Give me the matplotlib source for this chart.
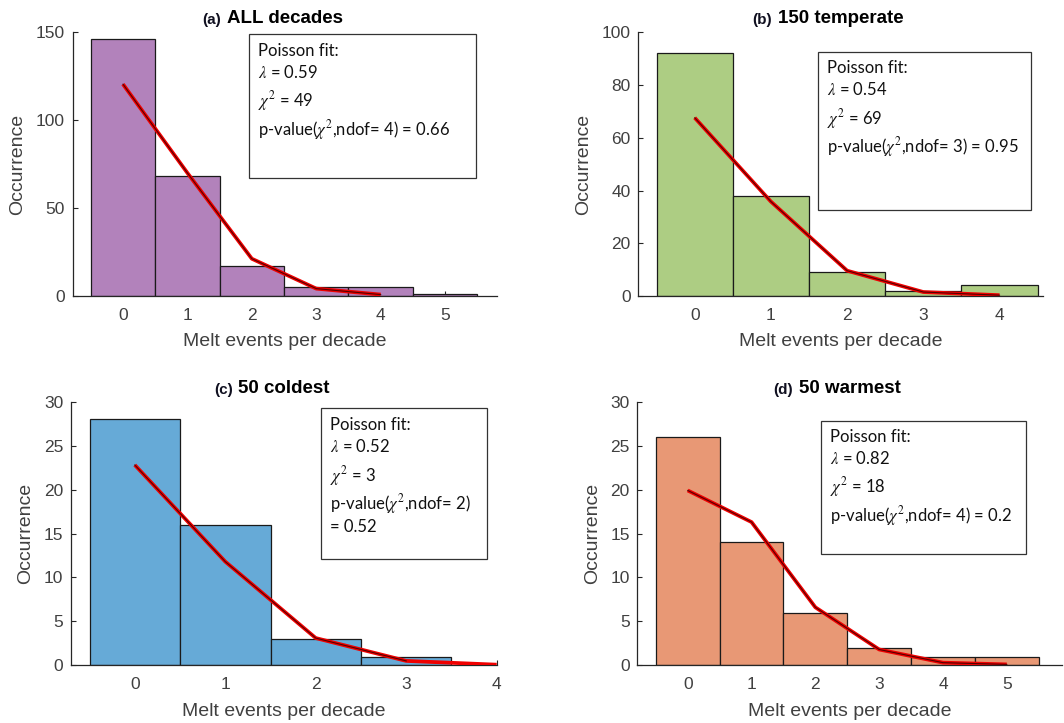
import matplotlib
matplotlib.use("Agg")
import matplotlib.pyplot as plt
from matplotlib.patches import Rectangle
import numpy as np

plt.rcParams['mathtext.fontset'] = 'stix'

# ---------------- data ----------------
titles_tag = ["(a)", "(b)", "(c)", "(d)"]
titles_main = ["ALL decades", "150 temperate", "50 coldest", "50 warmest"]

a_counts = [146, 68, 17, 5, 5, 1]
a_fit = [120.5, 70, 21.2, 4.2, 0.8]
b_counts = [92, 38, 9, 2, 4]
b_fit = [67.6, 35.8, 9.6, 1.5, 0.3]
c_counts = [28, 16, 3, 1]
c_fit = [22.8, 11.8, 3.1, 0.5, 0.07]
c_fit_core_n = 4          # number of fit points covered by the dark core line
d_counts = [26, 14, 6, 2, 1, 1]
d_fit = [19.9, 16.3, 6.6, 1.8, 0.3, 0.1]

lambdas = ["0.59", "0.54", "0.52", "0.82"]
chi2s = ["49", "69", "3", "18"]
ndofs = ["4", "3", "2", "4"]
pvals = ["0.66", "0.95", "0.52", "0.2"]

yticks_list = [[0, 50, 100, 150], [0, 20, 40, 60, 80, 100],
               [0, 5, 10, 15, 20, 25, 30], [0, 5, 10, 15, 20, 25, 30]]
xlims = [(-0.78, 5.8), (-0.74, 4.57), (-0.705, 4.0), (-0.79, 5.86)]

colors = ["#B282BB", "#ADCD83", "#66AAD7", "#E89875"]

# ---------------- layout (figure pixels) ----------------
W, H = 1064, 723
axes_px = [  # left, right, top, bottom
    (72.7, 496.7, 32.3, 296.0),
    (638.3, 1043.0, 32.3, 296.0),
    (71.0, 496.7, 401.7, 665.3),
    (637.3, 1061.7, 401.7, 665.3),
]
boxes_px = [  # left, right, top, bottom
    (249.0, 475.7, 34.3, 178.3),
    (817.7, 1030.7, 51.7, 210.0),
    (321.0, 487.3, 408.3, 559.0),
    (821.0, 1026.0, 420.7, 553.7),
]
text_left_px = [258.3, 826.7, 330.0, 830.0]
text_base_px = [
    [56, 77.7, 106, 135],
    [72.7, 95, 124, 152.7],
    [430, 452.3, 481, 509.3, 531.7],
    [442.3, 464.3, 492.7, 521.7],
]
xlabel_y_px = [342, 342, 711, 711]
ylabel_x_px = [17.5, 584, 25.8, 592.5]

counts_all = [a_counts, b_counts, c_counts, d_counts]
fits_all = [a_fit, b_fit, c_fit, d_fit]
core_n = [len(a_fit), len(b_fit), c_fit_core_n, len(d_fit)]

fig = plt.figure(figsize=(W / 100, H / 100), dpi=100)
sans = ['Liberation Sans', 'DejaVu Sans']
boxfont = ['Lato', 'DejaVu Sans']
axcol = '#262626'
tickcol = '#404040'

def fx(px):
    return px / W

def fy(py):
    return 1 - py / H

for i in range(4):
    l, r, t, b = axes_px[i]
    ax = fig.add_axes([fx(l), fy(b), fx(r) - fx(l), fy(t) - fy(b)])
    counts = counts_all[i]
    fit = fits_all[i]
    xs = np.arange(len(counts))
    ax.bar(xs, counts, width=1.0, color=colors[i], edgecolor='#1a1a1a',
           linewidth=0.9, zorder=2)
    xf = np.arange(len(fit))
    ax.plot(xf, fit, color='#F00000', lw=2.7, zorder=3, solid_capstyle='butt')
    ax.plot(xf[:core_n[i]], fit[:core_n[i]], color='#200000', lw=0.8, zorder=4,
            alpha=0.75)
    ax.set_xlim(*xlims[i])
    yt = yticks_list[i]
    ax.set_ylim(yt[0], yt[-1])
    ax.set_yticks(yt)
    ax.set_xticks(np.arange(int(np.floor(xlims[i][1])) + 1))
    for s in ['top', 'right']:
        ax.spines[s].set_visible(False)
    for s in ['left', 'bottom']:
        ax.spines[s].set_color(axcol)
        ax.spines[s].set_linewidth(0.9)
    ax.tick_params(direction='in', length=3.5, width=0.8, color=axcol,
                   labelcolor=tickcol, labelsize=12.5)
    ax.tick_params(axis='y', pad=5.5)
    ax.tick_params(axis='x', pad=8.5)
    for lab in ax.get_xticklabels() + ax.get_yticklabels():
        lab.set_fontfamily(sans)
    ax.set_xlabel("Melt events per decade", fontsize=14, color=tickcol,
                  fontfamily=sans)
    ax.set_ylabel("Occurrence", fontsize=14, color=tickcol, fontfamily=sans)
    ax.xaxis.label.set_verticalalignment('center')
    ax.yaxis.label.set_verticalalignment('center')
    ax.xaxis.set_label_coords(((l + r) / 2 - l) / (r - l), (b - xlabel_y_px[i]) / (b - t))
    ax.yaxis.set_label_coords((ylabel_x_px[i] - l) / (r - l), 0.5)

    title = ax.set_title(titles_main[i], fontsize=13.5, fontweight='bold',
                         fontfamily=sans, pad=6.5, color='black')
    ax.annotate(titles_tag[i], xy=(0, 0), xycoords=title, xytext=(-4, 0),
                textcoords='offset points', ha='right', va='bottom',
                fontsize=11, fontweight='bold', fontfamily=sans, color='#101020')

    # text box
    bl, br, bt, bb = boxes_px[i]
    fig.add_artist(Rectangle((fx(bl), fy(bb)), fx(br) - fx(bl), fy(bt) - fy(bb),
                             transform=fig.transFigure, fill=False,
                             edgecolor='#333333', linewidth=0.9, zorder=5))
    lines = ["Poisson fit:",
             r"$\lambda$ = " + lambdas[i],
             r"$\chi^2$ = " + chi2s[i]]
    if i == 2:
        lines += [r"p-value($\chi^2$,ndof= " + ndofs[i] + ")",
                  "= " + pvals[i]]
    else:
        lines += [r"p-value($\chi^2$,ndof= " + ndofs[i] + ") = " + pvals[i]]
    for j, txt in enumerate(lines):
        fig.text(fx(text_left_px[i]), fy(text_base_px[i][j]), txt,
                 fontsize=12, fontfamily=boxfont, color='#111111',
                 ha='left', va='baseline')

fig.savefig("out.png", dpi=100)
